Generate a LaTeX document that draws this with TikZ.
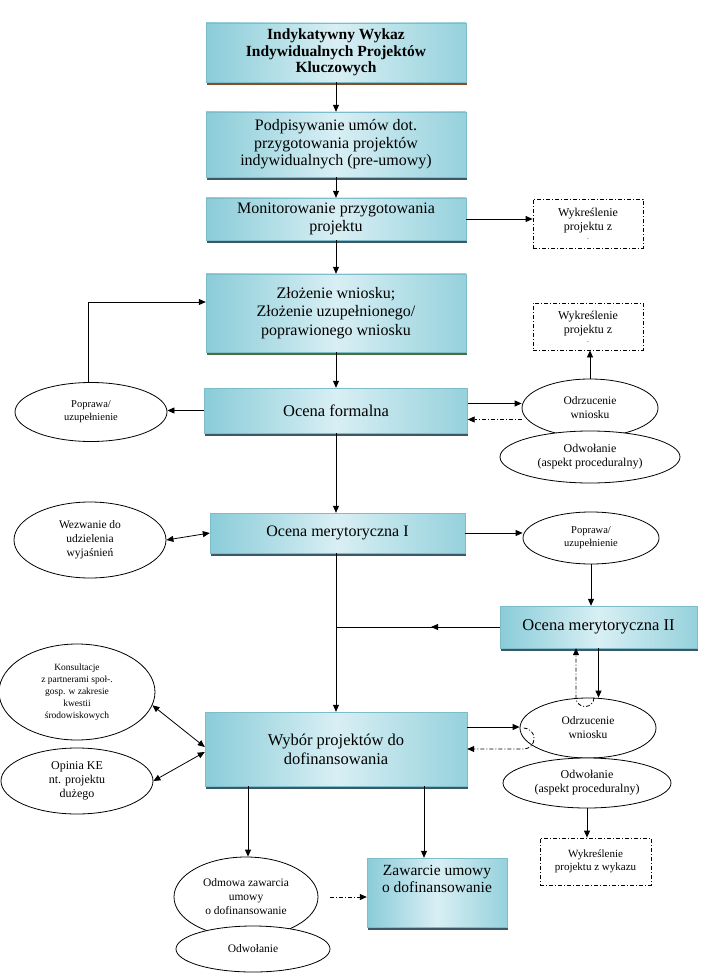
\documentclass[tikz,border=0pt]{standalone}
\usepackage{fontspec}
\setmainfont{Liberation Serif}
\usepackage{tikz}
\usetikzlibrary{arrows.meta}
\usetikzlibrary{decorations.markings}
\usetikzlibrary{shapes.geometric}
\usetikzlibrary{shadows}

\definecolor{boxdark}{RGB}{138,204,216}
\definecolor{boxlight}{RGB}{216,239,244}
\definecolor{boxline}{RGB}{125,188,202}
\definecolor{shadowblue}{RGB}{58,88,102}
\definecolor{shadowbrown}{RGB}{135,78,38}
\definecolor{shadowgreen}{RGB}{72,112,58}

\tikzset{
  stagebox/.style={rectangle, draw=boxline, line width=0.4pt, left color=boxdark,
    right color=boxdark!85!boxlight, middle color=boxlight, align=center, inner sep=2pt,
    general shadow={fill=shadowblue, shadow xshift=0.8pt, shadow yshift=-3pt}},
  oval/.style={ellipse, draw, fill=white, line width=0.8pt, inner sep=0pt, align=center,
    font=\fontsize{11.5}{14}\selectfont},
  strikebox/.style={rectangle, draw, line width=0.8pt, dash pattern=on 4pt off 2pt on 1pt off 2pt,
    align=center, inner sep=1pt, font=\fontsize{12}{14}\selectfont},
  flow/.style={-{Triangle[length=7pt,width=6pt]}},
  back/.style={-{Triangle[length=7pt,width=6pt]}, dash pattern=on 4pt off 2pt on 1pt off 2pt},
  both/.style={{Triangle[length=7pt,width=6pt]}-{Triangle[length=7pt,width=6pt]}}
}

\begin{document}
\begin{tikzpicture}[x=1pt,y=-1pt]
    \useasboundingbox (0,0) rectangle (710,973);
    \begin{scope}[thick,decoration={
    markings,
    mark=at position 0.42 with {\arrow{Triangle[length=7pt,width=6pt]}}}
    ]
    % draw main boxes
    \node[stagebox, minimum width=260, minimum height=59, general shadow={fill=shadowbrown, shadow xshift=0.8pt, shadow yshift=-3pt},
      font=\fontsize{15.5}{16.5}\selectfont\bfseries] (wykaz) at (336,52.5)
      {Indykatywny Wykaz\\Indywidualnych Projektów\\Kluczowych};%1
    \node[stagebox, minimum width=260, minimum height=65, font=\fontsize{16}{17.5}\selectfont] (preumowy) at (336,144.5)
      {Podpisywanie umów dot.\\przygotowania projektów\\indywidualnych (pre-umowy)};%2
    \node[stagebox, minimum width=260, minimum height=42, font=\fontsize{16}{17.5}\selectfont] (monitor) at (336,219)
      {Monitorowanie przygotowania\\projektu};%3
    \node[stagebox, minimum width=260, minimum height=78, general shadow={fill=shadowgreen, shadow xshift=0.8pt, shadow yshift=-3pt},
      font=\fontsize{16}{18.5}\selectfont] (wniosek) at (336,313)
      {Złożenie wniosku;\\Złożenie uzupełnionego/\\poprawionego wniosku};%4
    \node[stagebox, minimum width=263, minimum height=45, font=\fontsize{16.5}{18}\selectfont] (formalna) at (336,410.5)
      {Ocena formalna};%5
    \node[stagebox, minimum width=255, minimum height=40, font=\fontsize{16}{18}\selectfont] (merytI) at (337.5,533)
      {Ocena merytoryczna I};%6
    \node[stagebox, minimum width=197, minimum height=42, font=\fontsize{16.5}{18}\selectfont] (merytII) at (598.5,627)
      {Ocena merytoryczna II};%7
    \node[stagebox, minimum width=262, minimum height=74, font=\fontsize{16.5}{19}\selectfont] (wybor) at (336,749)
      {Wybór projektów do\\dofinansowania};%8
    \node[stagebox, minimum width=140, minimum height=69, font=\fontsize{15.5}{17}\selectfont] (zawarcie) at (437,892.5)
      {Zawarcie umowy\\o dofinansowanie\\[10pt]};%9

    % draw strike-out boxes
    \node[strikebox, minimum width=110, minimum height=49] (skreslA) at (588,223.5)
      {Wykreślenie\\projektu z\\[-5pt]{\scriptsize .}};%a
    \node[strikebox, minimum width=110, minimum height=47] (skreslB) at (588,326.5)
      {Wykreślenie\\projektu z\\[-5pt]{\scriptsize .}};%b
    \node[strikebox, minimum width=111, minimum height=47, font=\fontsize{11}{13}\selectfont] (skreslC) at (595.5,861.5)
      {Wykreślenie\\projektu z wykazu};%c

    % draw ovals
    \node[oval, minimum width=152, minimum height=59, font=\fontsize{10.5}{13}\selectfont] (poprawaL) at (91,412)
      {Poprawa/\\uzupełnienie};
    \node[oval, minimum width=136, minimum height=58] (odrzucA) at (590,408)
      {Odrzucenie\\wniosku};
    \node[oval, minimum width=180, minimum height=52, font=\fontsize{12}{14}\selectfont] (odwolA) at (590,457)
      {Odwołanie\\(aspekt proceduralny)};
    \node[oval, minimum width=152, minimum height=76] (wezwanie) at (90,540)
      {Wezwanie do\\udzielenia\\wyjaśnień};
    \node[oval, minimum width=136, minimum height=52, font=\fontsize{10.5}{13}\selectfont] (poprawaR) at (591,538)
      {Poprawa/\\uzupełnienie};
    \node[oval, minimum width=156, minimum height=96, font=\fontsize{9.5}{12}\selectfont] (konsult) at (77,692)
      {Konsultacje\\z partnerami społ-.\\gosp. w zakresie\\kwestii\\środowiskowych};
    \node[oval, minimum width=152, minimum height=66, font=\fontsize{12}{14}\selectfont] (opinia) at (77,781)
      {Opinia KE\\nt. projektu\\dużego};
    \node[oval, minimum width=136, minimum height=60] (odrzucB) at (588,728)
      {Odrzucenie\\wniosku};
    \node[oval, minimum width=168, minimum height=50, font=\fontsize{12}{14}\selectfont] (odwolB) at (587,783)
      {Odwołanie\\(aspekt proceduralny)};
    \node[oval, minimum width=144, minimum height=80] (odmowa) at (246,897)
      {Odmowa zawarcia\\umowy\\o dofinansowanie};
    \node[oval, minimum width=154, minimum height=46] (odwolC) at (253,949)
      {Odwołanie};

    % draw main flow
    \draw[flow] (wykaz) to (preumowy);
    \draw[flow] (preumowy) to (monitor);
    \draw[flow] (monitor) to (wniosek);
    \draw[flow] (wniosek) to (formalna);
    \draw[flow] (formalna.south) to (formalna.south |- merytI.north);
    \draw[flow] (formalna.south |- merytI.south) to (formalna.south |- wybor.north);
    \draw[flow] ([xshift=-88pt]wybor.south) to ([xshift=-88pt]wybor.south |- odmowa.north);
    \draw[flow] ([xshift=88pt]wybor.south) to ([xshift=88pt]wybor.south |- zawarcie.north);

    % draw side arrows
    \draw[flow] (monitor.east) to (monitor.east -| skreslA.west);
    \coordinate (bendL) at (88,302);
    \draw[flow] (bendL |- poprawaL.north) -- (bendL) -- (bendL -| wniosek.west);
    \draw[flow] (formalna.west) to (formalna.west -| poprawaL.east);
    \draw[flow] ([yshift=7pt]formalna.east) to ([yshift=7pt]formalna.east -| odrzucA.west);
    \draw[back] ([yshift=-9pt]formalna.east -| odrzucA.west) to ([yshift=-9pt]formalna.east);
    \draw[flow] (odrzucA.north) to (odrzucA.north |- skreslB.south);
    \draw[both] (wezwanie.east) to (merytI.west);
    \draw[flow] (merytI.east) to (merytI.east -| poprawaR.west);
    \draw[flow] (poprawaR.south) to (poprawaR.south |- merytII.north);
    \draw[postaction={decorate}] (merytII.west) to (merytII.west -| formalna.south);
    \draw[flow] (merytII.south) to (merytII.south |- odrzucB.north);
    \draw[back] ([xshift=-4.5pt]merytII.south |- odrzucB.north) arc[start angle=0,end angle=180,radius=9]
      -- ([xshift=-22.5pt]merytII.south);
    \draw[flow] ([yshift=22pt]wybor.east) to ([yshift=22pt]wybor.east -| odrzucB.west);
    \draw[back] ([xshift=4pt]odrzucB.west) arc[start angle=-90,end angle=90,radius=10.5] -- (wybor.east);
    \draw[flow] (odwolB.south) to (odwolB.south |- skreslC.north);
    \draw[both] (konsult.-10) to ([yshift=2pt]wybor.west);
    \draw[both] (opinia.east) to ([yshift=-3pt]wybor.west);
    \draw[back, shorten <=12pt] (odmowa.east) to (odmowa.east -| zawarcie.west);
    \end{scope}
\end{tikzpicture}
\end{document}
